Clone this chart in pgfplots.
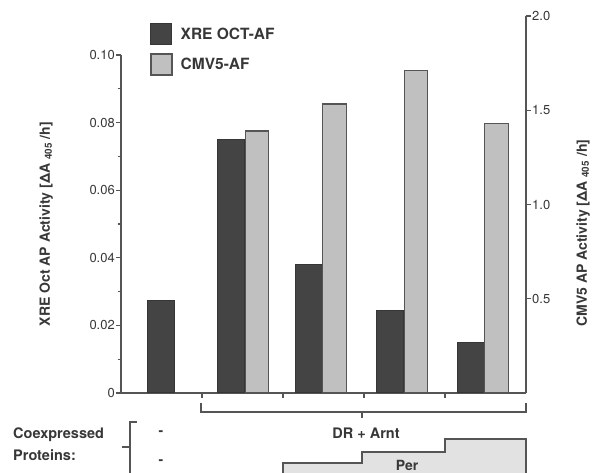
\documentclass[border=0pt]{standalone}
\usepackage{fontspec}
\setmainfont{TeX Gyre Heros}
\usepackage{pgfplots}
\pgfplotsset{compat=1.18}
\definecolor{axisgray}{RGB}{85,85,85}
\definecolor{darkbar}{RGB}{68,68,68}
\definecolor{lightbar}{RGB}{192,192,192}
\definecolor{perfill}{RGB}{226,226,226}
\definecolor{txt}{RGB}{55,55,55}
\pgfplotsset{sq legend/.style={legend image code/.code={\draw[##1] (0pt,-10.5pt) rectangle (21pt,10.5pt); \path (29pt,0pt);}}}
\begin{document}
\begin{tikzpicture}
\useasboundingbox (0,0) rectangle (594pt,473pt);
\begin{axis}[
  at={(121pt,80pt)}, anchor=south west, scale only axis,
  width=405pt, height=338pt,
  xmin=0, xmax=5, ymin=0, ymax=0.1,
  axis x line*=bottom, axis y line*=left,
  axis line style={axisgray, line width=1.3pt},
  every tick/.style={axisgray, line width=1.2pt},
  tick align=outside,
  major tick length=5pt, minor tick length=3pt,
  xtick={1,2,3,4}, xticklabels={},
  ytick={0,0.02,0.04,0.06,0.08,0.1},
  yticklabels={0,0.02,0.04,0.06,0.08,0.10},
  minor ytick={0.01,0.03,0.05,0.07,0.09},
  yticklabel style={font=\fontsize{13}{15}\selectfont, text=txt, inner sep=1pt},
  /pgf/number format/assume math mode=true,
  ylabel={XRE Oct AP Activity [ΔA\ \textsubscript{405}\ /h]},
  every axis y label/.style={at={(rel axis cs:-0.185,0.5)}, rotate=90, anchor=center,
     font=\bfseries\fontsize{14}{16}\selectfont, text=txt},
  legend style={at={(rel axis cs:0.0716,1.0947)}, anchor=north west, draw=none, fill=none,
     inner sep=0pt, row sep=8pt, font=\bfseries\fontsize{15.5}{18}\selectfont, text=txt,
     nodes={inner sep=0pt}},
  legend cell align=left,
  clip=false,
]
\addplot[ybar, bar width=27pt, bar shift=0pt, fill=darkbar, draw=darkbar!80!black, line width=1pt, sq legend]
  coordinates {(0.494,0.0275) (1.358,0.075) (2.315,0.038) (3.327,0.0243) (4.315,0.0148)};
\addlegendentry{XRE OCT-AF}
\addlegendimage{sq legend, fill=lightbar, draw=axisgray, line width=1.5pt}
\addlegendentry{CMV5-AF}
\end{axis}
\begin{axis}[
  at={(121pt,80pt)}, anchor=south west, scale only axis,
  width=405pt, height=377pt,
  xmin=0, xmax=5, ymin=0, ymax=2,
  axis y line*=right, axis x line=none,
  axis line style={axisgray, line width=1.3pt},
  every tick/.style={axisgray, line width=1.2pt},
  tick align=outside, major tick length=5pt,
  xtick=\empty,
  ytick={0.5,1,1.5,2},
  yticklabels={0.5,1.0,1.5,2.0},
  yticklabel style={font=\fontsize{13}{15}\selectfont, text=txt, inner sep=1pt},
  /pgf/number format/assume math mode=true,
  ylabel={CMV5 AP Activity [ΔA\ \textsubscript{405}\ /h]},
  every axis y label/.style={at={(rel axis cs:1.141,0.424)}, rotate=90, anchor=center,
     font=\bfseries\fontsize{14}{16}\selectfont, text=txt},
  clip=false,
]
\addplot[ybar, bar width=23.5pt, bar shift=0pt, fill=lightbar, draw=axisgray, line width=1.3pt]
  coordinates {(1.679,1.39) (2.636,1.533) (3.642,1.71) (4.636,1.43)};
\end{axis}
\begin{scope}[x=1pt, y=-1pt, shift={(0pt,473pt)}]
  \draw[axisgray, line width=1.3pt] (201,403) -- (201,412) -- (526,412) -- (526,403);
  \draw[axisgray, line width=1.3pt] (362,412) -- (362,418);
  \node[text=txt, font=\bfseries\fontsize{14.5}{16}\selectfont] at (366,433) {DR + Arnt};
  \fill[perfill] (283,476) -- (283,463) -- (362,463) -- (362,452) -- (445,452) -- (445,439) -- (526,439) -- (526,476) -- cycle;
  \draw[axisgray, line width=1.3pt] (283,476) -- (283,463) -- (362,463) -- (362,452) -- (445,452) -- (445,439) -- (526,439) -- (526,476);
  \node[text=txt, font=\bfseries\fontsize{14}{16}\selectfont] at (407,465) {Per};
  \draw[axisgray, line width=1.3pt] (137,422) -- (130,422) -- (130,476);
  \draw[axisgray, line width=1.3pt] (122,447) -- (130,447);
  \node[text=txt, font=\bfseries\fontsize{14}{16}\selectfont] at (161,433) {-};
  \node[text=txt, font=\bfseries\fontsize{14}{16}\selectfont] at (161,462) {-};
  \node[text=txt, font=\bfseries\fontsize{14.5}{16}\selectfont, anchor=west, inner sep=0pt] at (13,435) {Coexpressed};
  \node[text=txt, font=\bfseries\fontsize{14.5}{16}\selectfont, anchor=west, inner sep=0pt] at (13,455) {Proteins:};
\end{scope}
\end{tikzpicture}
\end{document}
